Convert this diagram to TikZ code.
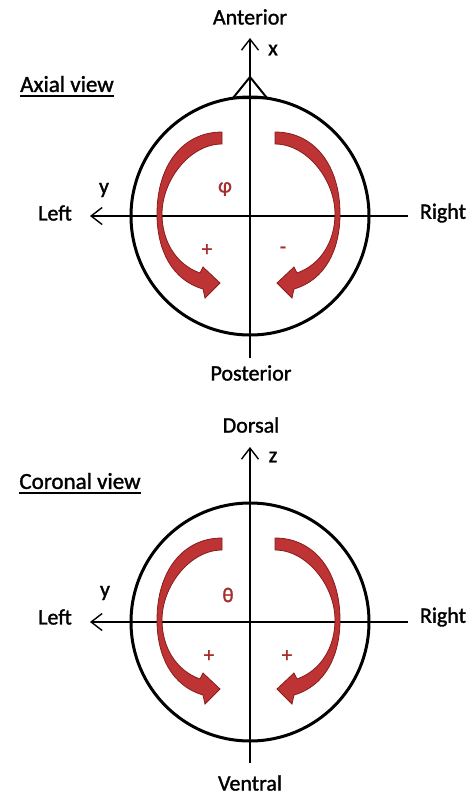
\documentclass[tikz,border=0pt]{standalone}
\usepackage{fontspec}
\setmainfont{Carlito}
\newfontfamily\lblfont{Carlito}[FakeBold=1.4]
\usetikzlibrary{arrows.meta}
\definecolor{arrowfill}{RGB}{190,52,52}
\definecolor{arrowedge}{RGB}{135,28,28}
\definecolor{arrowred}{RGB}{165,45,45}
\tikzset{
  lbl/.style={font=\lblfont\fontsize{22}{26}\selectfont, inner sep=0pt},
  ttl/.style={font=\lblfont\fontsize{23}{27}\selectfont, inner sep=0pt},
  redlbl/.style={font=\lblfont\fontsize{21}{24}\selectfont, text=arrowred, inner sep=0pt},
  headcirc/.style={circle, draw, line width=3pt, minimum size=238pt, inner sep=0pt},
  axisline/.style={line width=1.4pt},
  axarrow/.style={axisline, -{Straight Barb[length=11pt,width=17pt,line width=1.4pt]}},
  rotarr/.style={fill=arrowfill, draw=arrowedge, line width=0.8pt, line join=miter},
  uline/.style={line width=1.6pt}
}
\newcommand{\rotarrowshape}{%
  \filldraw[rotarr] (222,132)
    .. controls (183,132) and (157,165) .. (157,214)
    .. controls (157,250) and (172,280) .. (203,289)
    -- (205,298) -- (220,283) -- (203,267) -- (200,273)
    .. controls (175,264) and (162,240) .. (162,214)
    .. controls (162,180) and (190,144) .. (222,144)
    -- cycle;}
\begin{document}
\begin{tikzpicture}[x=1pt, y=-1pt]
\useasboundingbox (0,0) rectangle (474,796);

% ---------------- Axial view ----------------
\node[headcirc] (headA) at (250,216) {};
\draw[line width=2pt, line join=miter] (233,98) -- (250,77) -- (267,98) -- cycle;
\coordinate (aN) at (250,38);
\coordinate (aS) at (250,358);
\coordinate (aW) at (90,216);
\coordinate (aE) at (408,216);
\draw[axarrow] (aS) -- (aN);
\draw[axarrow] (aE) -- (aW);

\rotarrowshape
\begin{scope}[shift={(497,0)}, xscale=-1]
  \rotarrowshape
\end{scope}

\node[lbl] (ant) at (250,17) {Anterior};
\node[lbl] (xl) at (273,50) {x};
\node[lbl] (leftA) at (55,213) {Left};
\node[lbl] (yA) at (104,190) {y};
\node[lbl] (rightA) at (443,213) {Right};
\node[lbl] (post) at (251,373) {Posterior};
\node[ttl] (axt) at (67,84) {Axial view};
\draw[uline] ([yshift=-4pt]axt.south west) -- ([yshift=-4pt]axt.south east);
\node[redlbl] (phi) at (225,189) {φ};
\node[redlbl] (plA) at (207,250) {+};
\node[redlbl] (miA) at (283,250) {-};

% ---------------- Coronal view ----------------
\node[headcirc] (headC) at (250,622) {};
\coordinate (cN) at (250,447);
\coordinate (cS) at (250,763);
\coordinate (cW) at (90,622);
\coordinate (cE) at (408,622);
\draw[axarrow] (cS) -- (cN);
\draw[axarrow] (cE) -- (cW);

\begin{scope}[shift={(0,406)}]
  \rotarrowshape
\end{scope}
\begin{scope}[shift={(497,406)}, xscale=-1]
  \rotarrowshape
\end{scope}

\node[lbl] (dors) at (251,425) {Dorsal};
\node[lbl] (zl) at (273,457) {z};
\node[lbl] (leftC) at (55,617) {Left};
\node[lbl] (yC) at (105,593) {y};
\node[lbl] (rightC) at (443,617) {Right};
\node[lbl] (vent) at (250,783) {Ventral};
\node[ttl] (cot) at (80,481) {Coronal view};
\draw[uline] ([yshift=-4pt]cot.south west) -- ([yshift=-4pt]cot.south east);
\node[redlbl] (theta) at (228,595) {θ};
\node[redlbl] (plC1) at (209,656) {+};
\node[redlbl] (plC2) at (287,656) {+};
\end{tikzpicture}
\end{document}
